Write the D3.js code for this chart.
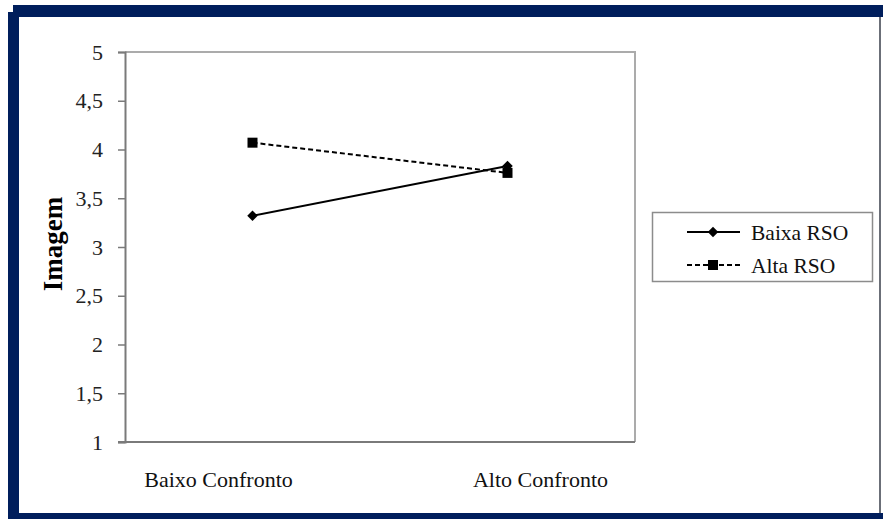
<!DOCTYPE html>
<html>
<head>
<meta charset="utf-8">
<script src="https://cdn.jsdelivr.net/npm/d3@7"></script>
<style>
  html, body { margin: 0; padding: 0; background: #fff; }
  svg { display: block; }
</style>
</head>
<body>
<svg id="chart" width="883" height="519"></svg>
<script>
// Condition categories on the horizontal axis
const categories = ["Baixo Confronto", "Alto Confronto"];
// Mean "Imagem" scores per group
const seriesNames = ["Baixa RSO", "Alta RSO"];
const baixaRSO = [3.32, 3.83];
const altaRSO = [4.07, 3.76];
// Y-axis ticks
const yTicks = [1, 1.5, 2, 2.5, 3, 3.5, 4, 4.5, 5];
const yTitle = "Imagem";

const SERIF = "'Liberation Serif', 'Times New Roman', Tinos, 'DejaVu Serif', serif";

const svg = d3.select("#chart");
const W = 883, H = 519;
const navy = "#001e5c";

// Outer frame
svg.append("rect").attr("x", 0).attr("y", 0).attr("width", W).attr("height", H).attr("fill", "#fff");
svg.append("rect").attr("x", 13).attr("y", 5).attr("width", W - 13).attr("height", 12).attr("fill", navy);
svg.append("rect").attr("x", 8).attr("y", 12).attr("width", 11).attr("height", H - 12).attr("fill", navy);
svg.append("rect").attr("x", 8).attr("y", 513).attr("width", W - 8).attr("height", 6).attr("fill", navy);
svg.append("rect").attr("x", 879).attr("y", 17).attr("width", 2).attr("height", 496).attr("fill", "#6b6f78");

// Plot area
const plot = { left: 125, right: 635, top: 52, bottom: 442 };

const x = d3.scaleBand().domain(categories).range([plot.left, plot.right]).padding(0);
const y = d3.scaleLinear().domain([1, 5]).range([plot.bottom, plot.top]);
const fmt = v => String(v).replace(".", ",");

// Top and right border of the plot
svg.append("path")
  .attr("d", `M${plot.left},${plot.top}H${plot.right}V${plot.bottom}`)
  .attr("fill", "none").attr("stroke", "#ababab").attr("stroke-width", 2);

// Y axis
const yAxis = d3.axisLeft(y).tickValues(yTicks).tickFormat(fmt).tickSize(7).tickPadding(15);
const gy = svg.append("g").attr("transform", `translate(${plot.left},0)`).call(yAxis);
gy.attr("font-family", null).attr("font-size", null);
gy.select(".domain").attr("stroke", "#7a7a7a").attr("stroke-width", 2);
gy.selectAll(".tick line").attr("stroke", "#7a7a7a").attr("stroke-width", 1.5);
gy.selectAll(".tick text")
  .style("font-family", SERIF).style("font-size", "22px").attr("fill", "#222");

// X axis line
svg.append("line")
  .attr("x1", plot.left - 7).attr("x2", plot.right)
  .attr("y1", plot.bottom).attr("y2", plot.bottom)
  .attr("stroke", "#7a7a7a").attr("stroke-width", 2);

// Category labels, pushed slightly outward from the band centres
const labelShift = [-34, 33];
svg.selectAll(".cat")
  .data(categories)
  .join("text")
  .attr("class", "cat")
  .attr("x", (d, i) => x(d) + x.bandwidth() / 2 + labelShift[i])
  .attr("y", 487)
  .attr("text-anchor", "middle")
  .style("font-family", SERIF).style("font-size", "22px")
  .attr("fill", "#111")
  .text(d => d);

// Y-axis title
svg.append("text")
  .attr("transform", "translate(62,244) rotate(-90)")
  .attr("text-anchor", "middle")
  .style("font-family", SERIF).style("font-size", "27px").style("font-weight", "bold")
  .attr("fill", "#000")
  .text(yTitle);

// Series lines
const cx = d => x(d) + x.bandwidth() / 2;
const line = d3.line().x(d => cx(d.c)).y(d => y(d.v));
const toPts = vals => categories.map((c, i) => ({ c, v: vals[i] }));

const series = [
  { name: seriesNames[0], values: baixaRSO, dash: null, marker: "diamond" },
  { name: seriesNames[1], values: altaRSO, dash: "5,3", marker: "square" }
];

const sym = {
  diamond: d3.symbol().type(d3.symbolDiamond2).size(70),
  square: d3.symbol().type(d3.symbolSquare).size(100)
};

series.forEach(s => {
  svg.append("path")
    .datum(toPts(s.values))
    .attr("d", line)
    .attr("fill", "none")
    .attr("stroke", "#000")
    .attr("stroke-width", 2)
    .attr("stroke-dasharray", s.dash);
});
series.forEach(s => {
  svg.selectAll(null)
    .data(toPts(s.values))
    .join("path")
    .attr("transform", d => `translate(${cx(d.c)},${y(d.v)})`)
    .attr("d", sym[s.marker]())
    .attr("fill", "#000");
});

// Legend
const lg = svg.append("g");
lg.append("rect")
  .attr("x", 652.5).attr("y", 212.5).attr("width", 220).attr("height", 69)
  .attr("fill", "#fff").attr("stroke", "#8c8c8c").attr("stroke-width", 1.5);
const rowY = [232, 265];
series.forEach((s, i) => {
  lg.append("line")
    .attr("x1", 687).attr("x2", 740).attr("y1", rowY[i]).attr("y2", rowY[i])
    .attr("stroke", "#000").attr("stroke-width", 2)
    .attr("stroke-dasharray", s.dash);
  lg.append("path")
    .attr("transform", `translate(713,${rowY[i]})`)
    .attr("d", sym[s.marker]())
    .attr("fill", "#000");
  lg.append("text")
    .attr("x", 751).attr("y", rowY[i] + 8)
    .style("font-family", SERIF).style("font-size", "21.5px")
    .attr("fill", "#111")
    .text(s.name);
});
</script>
</body>
</html>
